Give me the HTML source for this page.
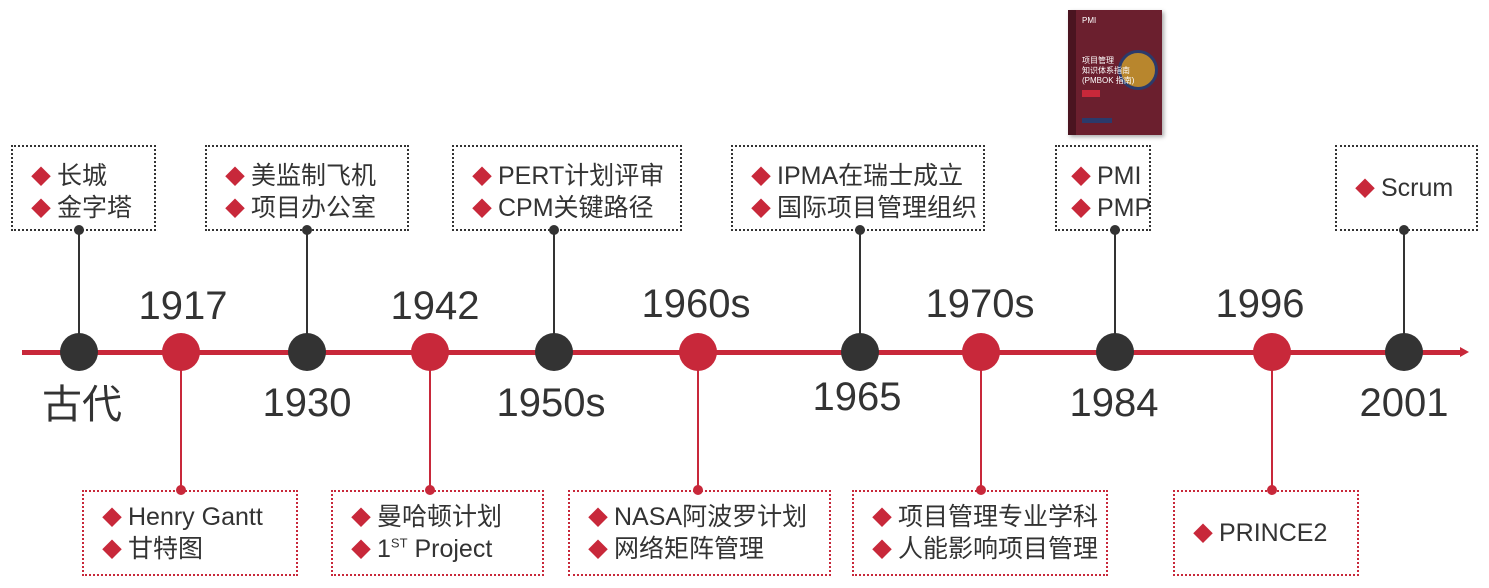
<!DOCTYPE html>
<html><head><meta charset="utf-8"><style>
*{margin:0;padding:0;box-sizing:border-box}
body{width:1489px;height:588px;background:#fff;position:relative;overflow:hidden;font-family:"Liberation Sans","Noto Sans CJK SC",sans-serif;color:#333}
.box{position:absolute;border:2px dotted #333;padding:14px 0 0 18px;font-size:25px;line-height:30px}
.box.r{border-color:#c8283a;padding-top:10px}
.box div{white-space:nowrap}
.box div:before{content:"◆";color:#c8283a;margin-right:6px;font-size:20px}
sup{line-height:0;font-size:13px}
.c{position:absolute;width:38px;height:38px;border-radius:50%;top:333px}
.k{background:#333}.rd{background:#c8283a}
.v{position:absolute;width:2px}
.d{position:absolute;width:10px;height:10px;border-radius:50%}
.y{position:absolute;font-size:40px;transform:translateX(-50%);line-height:40px;color:#333}
</style></head><body>
<div style="position:absolute;left:22px;top:350px;width:1440px;height:5px;background:#c8283a"></div>
<div style="position:absolute;left:1460px;top:347px;border-left:9px solid #c8283a;border-top:5px solid transparent;border-bottom:5px solid transparent"></div>

<div class="box" style="left:11px;top:145px;width:145px;height:86px"><div>长城</div><div>金字塔</div></div>
<div class="box" style="left:205px;top:145px;width:204px;height:86px"><div>美监制飞机</div><div>项目办公室</div></div>
<div class="box" style="left:452px;top:145px;width:230px;height:86px"><div>PERT计划评审</div><div>CPM关键路径</div></div>
<div class="box" style="left:731px;top:145px;width:254px;height:86px"><div>IPMA在瑞士成立</div><div>国际项目管理组织</div></div>
<div class="box" style="left:1055px;top:145px;width:96px;height:86px;padding-left:14px"><div>PMI</div><div>PMP</div></div>
<div class="box" style="left:1335px;top:145px;width:143px;height:86px;padding-top:26px"><div>Scrum</div></div>

<div class="box r" style="left:82px;top:490px;width:216px;height:86px"><div>Henry Gantt</div><div>甘特图</div></div>
<div class="box r" style="left:331px;top:490px;width:213px;height:86px"><div>曼哈顿计划</div><div>1<sup>ST</sup> Project</div></div>
<div class="box r" style="left:568px;top:490px;width:263px;height:86px"><div>NASA阿波罗计划</div><div>网络矩阵管理</div></div>
<div class="box r" style="left:852px;top:490px;width:256px;height:86px"><div>项目管理专业学科</div><div>人能影响项目管理</div></div>
<div class="box r" style="left:1173px;top:490px;width:186px;height:86px;padding-top:26px"><div>PRINCE2</div></div>

<div class="v" style="left:78px;top:230px;height:110px;background:#333"></div><div class="d" style="left:74px;top:225px;background:#333"></div>
<div class="v" style="left:306px;top:230px;height:110px;background:#333"></div><div class="d" style="left:302px;top:225px;background:#333"></div>
<div class="v" style="left:553px;top:230px;height:110px;background:#333"></div><div class="d" style="left:549px;top:225px;background:#333"></div>
<div class="v" style="left:859px;top:230px;height:110px;background:#333"></div><div class="d" style="left:855px;top:225px;background:#333"></div>
<div class="v" style="left:1114px;top:230px;height:110px;background:#333"></div><div class="d" style="left:1110px;top:225px;background:#333"></div>
<div class="v" style="left:1403px;top:230px;height:110px;background:#333"></div><div class="d" style="left:1399px;top:225px;background:#333"></div>

<div class="v" style="left:180px;top:360px;height:130px;background:#c8283a"></div><div class="d" style="left:176px;top:485px;background:#c8283a"></div>
<div class="v" style="left:429px;top:360px;height:130px;background:#c8283a"></div><div class="d" style="left:425px;top:485px;background:#c8283a"></div>
<div class="v" style="left:697px;top:360px;height:130px;background:#c8283a"></div><div class="d" style="left:693px;top:485px;background:#c8283a"></div>
<div class="v" style="left:980px;top:360px;height:130px;background:#c8283a"></div><div class="d" style="left:976px;top:485px;background:#c8283a"></div>
<div class="v" style="left:1271px;top:360px;height:130px;background:#c8283a"></div><div class="d" style="left:1267px;top:485px;background:#c8283a"></div>

<div class="c k" style="left:60px"></div>
<div class="c rd" style="left:162px"></div>
<div class="c k" style="left:288px"></div>
<div class="c rd" style="left:411px"></div>
<div class="c k" style="left:535px"></div>
<div class="c rd" style="left:679px"></div>
<div class="c k" style="left:841px"></div>
<div class="c rd" style="left:962px"></div>
<div class="c k" style="left:1096px"></div>
<div class="c rd" style="left:1253px"></div>
<div class="c k" style="left:1385px"></div>

<div class="y" style="left:183px;top:286px">1917</div>
<div class="y" style="left:435px;top:286px">1942</div>
<div class="y" style="left:696px;top:284px">1960s</div>
<div class="y" style="left:980px;top:284px">1970s</div>
<div class="y" style="left:1260px;top:284px">1996</div>
<div class="y" style="left:82px;top:385px">古代</div>
<div class="y" style="left:307px;top:383px">1930</div>
<div class="y" style="left:551px;top:383px">1950s</div>
<div class="y" style="left:857px;top:377px">1965</div>
<div class="y" style="left:1114px;top:383px">1984</div>
<div class="y" style="left:1404px;top:383px">2001</div>

<div style="position:absolute;left:1068px;top:10px;width:94px;height:125px;background:#6b1f2e;box-shadow:2px 2px 4px #aaa">
<div style="position:absolute;left:0;top:0;width:8px;height:125px;background:#4a1420"></div>
<div style="position:absolute;left:50px;top:40px;width:40px;height:40px;border-radius:50%;background:#b8862d;border:3px solid #2b3a6b"></div>
<div style="position:absolute;left:14px;top:46px;font-size:8px;line-height:10px;color:#fff">项目管理<br>知识体系指南<br>(PMBOK 指南)</div>
<div style="position:absolute;left:14px;top:80px;width:18px;height:7px;background:#c8283a"></div>
<div style="position:absolute;left:14px;top:108px;width:30px;height:5px;background:#2b3a6b"></div>
<div style="position:absolute;left:14px;top:6px;font-size:8px;color:#fff">PMI</div>
</div>
</body></html>
